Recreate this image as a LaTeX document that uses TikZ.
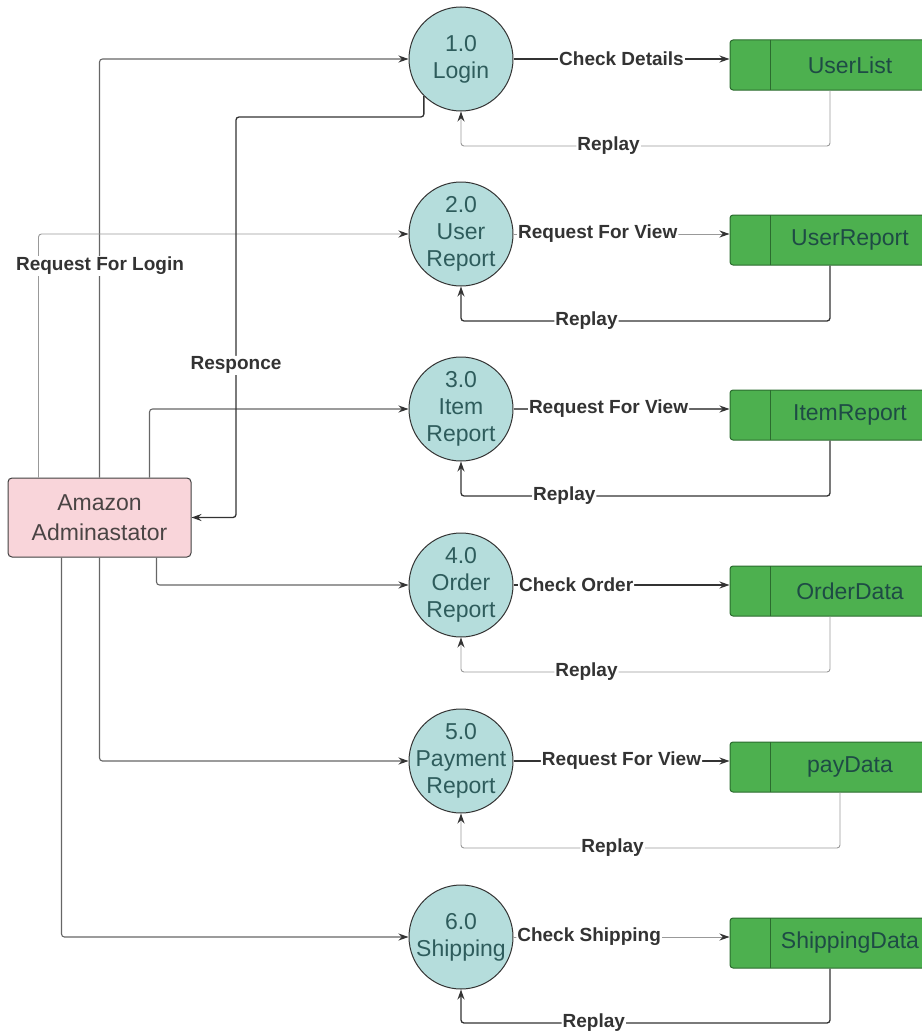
\documentclass[tikz,border=0pt]{standalone}
\usepackage{fontspec}
\setmainfont{Liberation Sans}
\usetikzlibrary{arrows.meta}
\definecolor{procfill}{HTML}{B5DDDC}
\definecolor{proctext}{HTML}{2E5C5C}
\definecolor{storefill}{HTML}{4DB04F}
\definecolor{storeline}{HTML}{2B6B2E}
\definecolor{storetext}{HTML}{1E4B45}
\definecolor{adminfill}{HTML}{F9D5DA}
\definecolor{admintext}{HTML}{4A4444}

\begin{document}
\begin{tikzpicture}[
            x=1pt, y=-1pt,
            process/.style={circle,draw=gray!40!black,line width=1pt,fill=procfill,minimum size=104pt,inner sep=0pt},
            proctxt/.style={align=center,inner sep=0pt,text=proctext,font=\fontsize{23}{27}\selectfont},
            store/.style={rectangle,draw=storeline,line width=1pt,rounded corners=3pt,fill=storefill,minimum width=200pt,minimum height=50pt,
                path picture={\draw[storeline,line width=1pt] ([xshift=40pt]path picture bounding box.north west) -- ([xshift=40pt]path picture bounding box.south west);}},
            storetxt/.style={xshift=20pt,text=storetext,font=\fontsize{23}{27}\selectfont},
            entity/.style={rectangle,draw=gray!50!black,line width=1pt,rounded corners=4pt,fill=adminfill,minimum width=183pt,minimum height=79pt,align=center,text=admintext,font=\fontsize{23}{30}\selectfont},
            lbl/.style={fill=white,inner sep=1pt,text=black!80,font=\bfseries\fontsize{19}{22}\selectfont},
            flow/.style={-{Stealth[length=10pt,width=7pt,color=black!80]},rounded corners=3pt},
            dark/.style={flow,draw=black!80,line width=1.3pt},
            mid/.style={flow,draw=black!60,line width=1.1pt},
            light/.style={flow,draw=black!40,line width=0.9pt}
        ]
        \useasboundingbox (0,0) rectangle (921,1033);

        % processes
        \node[process,label={[proctxt]center:{1.0\\Login}}] (login) at (461,59) {};
        \node[process,label={[proctxt]center:{2.0\\User\\Report}}] (userrep) at (461,234) {};
        \node[process,label={[proctxt]center:{3.0\\Item\\Report}}] (itemrep) at (461,409) {};
        \node[process,label={[proctxt]center:{4.0\\Order\\Report}}] (orderrep) at (461,585) {};
        \node[process,label={[proctxt]center:{5.0\\Payment\\Report}}] (payrep) at (461,761) {};
        \node[process,label={[proctxt]center:{6.0\\Shipping}}] (shiprep) at (461,937) {};

        % data stores
        \node[store,label={[storetxt]center:UserList}] (userlist) at (830,65) {};
        \node[store,label={[storetxt]center:UserReport}] (userreport) at (830,240) {};
        \node[store,label={[storetxt]center:ItemReport}] (itemreport) at (830,415) {};
        \node[store,label={[storetxt]center:OrderData}] (orderdata) at (830,591) {};
        \node[store,label={[storetxt]center:payData}] (paydata) at (830,767) {};
        \node[store,label={[storetxt]center:ShippingData}] (shipdata) at (830,943) {};

        % external entity
        \node[entity] (admin) at (99.5,517.5) {Amazon\\Adminastator};

        % requests to the stores
        \draw[dark] (login) -- (login -| userlist.west) node[lbl,pos=.5] {Check Details};
        \draw[light] (userrep) -- (userrep -| userreport.west) node[lbl,pos=.39] {Request For View};
        \draw[mid] (itemrep) -- (itemrep -| itemreport.west) node[lbl,pos=.44] {Request For View};
        \draw[dark] (orderrep) -- (orderrep -| orderdata.west) node[lbl,pos=.29] {Check Order};
        \draw[dark] (payrep) -- (payrep -| paydata.west) node[lbl,pos=.5] {Request For View};
        \draw[light] (shiprep) -- (shiprep -| shipdata.west) node[lbl,pos=.35] {Check Shipping};

        % replies
        \coordinate (r1) at (461,146);
        \coordinate (r2) at (461,321);
        \coordinate (r3) at (461,496);
        \coordinate (r4) at (461,672);
        \coordinate (r5) at (461,848);
        \coordinate (r6) at (461,1023);
        \draw[light] (userlist.south) |- (r1) node[lbl,pos=.8] {Replay} -- (login.south);
        \draw[dark] (userreport.south) |- (r2) node[lbl,pos=.83] {Replay} -- (userrep.south);
        \draw[dark] (itemreport.south) |- (r3) node[lbl,pos=.86] {Replay} -- (itemrep.south);
        \draw[light] (orderdata.south) |- (r4) node[lbl,pos=.83] {Replay} -- (orderrep.south);
        \draw[light] ([xshift=10pt]paydata.south) |- (r5) node[lbl,pos=.8] {Replay} -- (payrep.south);
        \draw[dark] (shipdata.south) |- (r6) node[lbl,pos=.82] {Replay} -- (shiprep.south);

        % admin to processes
        \draw[mid] (admin.north) |- (login);
        \draw[light] ([xshift=-61pt]admin.north) |- (userrep);
        \draw[mid] ([xshift=50pt]admin.north) |- (itemrep);
        \draw[mid] ([xshift=57pt]admin.south) |- (orderrep);
        \draw[mid] (admin.south) |- (payrep);
        \draw[mid] ([xshift=-38pt]admin.south) |- (shiprep);
        \draw[dark] (login.225) |- (236,117) |- node[lbl,pos=.31] {Responce} (admin.east);
        \node[lbl] (reqlogin) at (100,266) {Request For Login};
    \end{tikzpicture}
\end{document}
